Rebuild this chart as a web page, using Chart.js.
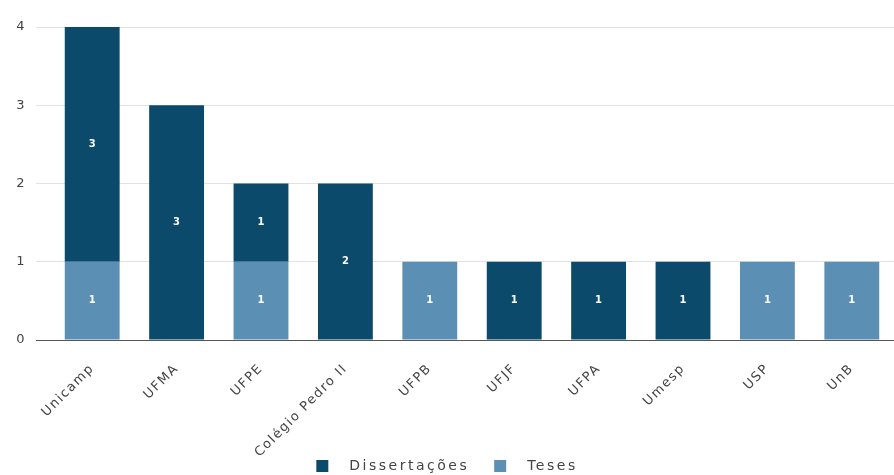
<!DOCTYPE html>
<html>
<head>
<meta charset="utf-8">
<script src="https://cdn.jsdelivr.net/npm/chart.js@4"></script>
<style>
  body { margin: 0; background: #fff; }
  #wrap { width: 894px; height: 475px; }
</style>
</head>
<body>
<div id="wrap"><canvas id="myChart"></canvas></div>
<script>
// categories and series
var institutions = ["Unicamp", "UFMA", "UFPE", "Colégio Pedro II", "UFPB", "UFJF", "UFPA", "Umesp", "USP", "UnB"];
var teses = [1, 0, 1, 0, 1, 0, 0, 0, 1, 1];
var dissertacoes = [3, 3, 1, 2, 0, 1, 1, 1, 0, 0];
var yTicks = [0, 1, 2, 3, 4];

var FONT = '"DejaVu Sans", Verdana, sans-serif';

// the source text is wide, so space the letters out a bit
var wideText = {
  id: 'wideText',
  beforeLayout: function (chart) { chart.ctx.letterSpacing = '1.5px'; },
  beforeDraw: function (chart) { chart.ctx.letterSpacing = '1.5px'; }
};

// writes the value in the middle of each bar segment
var barValues = {
  id: 'barValues',
  afterDatasetsDraw: function (chart) {
    var ctx = chart.ctx;
    ctx.save();
    ctx.letterSpacing = '0px';
    ctx.fillStyle = '#ffffff';
    ctx.font = 'bold 10px ' + FONT;
    ctx.textAlign = 'center';
    ctx.textBaseline = 'middle';
    chart.data.datasets.forEach(function (ds, i) {
      chart.getDatasetMeta(i).data.forEach(function (bar, j) {
        if (!ds.data[j]) return;
        var p = bar.getProps(['x', 'y', 'base'], true);
        ctx.fillText(ds.data[j], p.x, (p.y + p.base) / 2);
      });
    });
    ctx.restore();
  }
};

// legend at the bottom, Dissertações first, drawn by hand so the gaps match
var bottomLegend = {
  id: 'bottomLegend',
  afterDraw: function (chart) {
    var ctx = chart.ctx;
    var items = chart.data.datasets.slice().reverse();
    ctx.save();
    ctx.font = '14px ' + FONT;
    ctx.letterSpacing = '2.5px';
    ctx.textBaseline = 'middle';
    ctx.textAlign = 'left';
    var box = 12, gapText = 21, gapItem = 25;
    var total = 0;
    items.forEach(function (ds, i) {
      total += box + gapText + ctx.measureText(ds.label).width;
      if (i < items.length - 1) total += gapItem;
    });
    var x = chart.width / 2 - total / 2;
    var y = 466;
    items.forEach(function (ds) {
      ctx.fillStyle = ds.backgroundColor;
      ctx.fillRect(x, y - box / 2, box, box);
      x += box + gapText;
      ctx.fillStyle = '#444';
      ctx.fillText(ds.label, x, y);
      x += ctx.measureText(ds.label).width + gapItem;
    });
    ctx.restore();
  }
};

var ctx = document.getElementById('myChart').getContext('2d');
var myChart = new Chart(ctx, {
  type: 'bar',
  data: {
    labels: institutions,
    datasets: [
      // teses sit at the bottom of each stack
      { label: 'Teses', data: teses, backgroundColor: '#5b8fb3', stack: 's' },
      { label: 'Dissertações', data: dissertacoes, backgroundColor: '#0b4a6b', stack: 's' }
    ]
  },
  options: {
    responsive: true,
    maintainAspectRatio: false,
    animation: false,
    layout: { padding: { top: 27, right: 0, left: 0, bottom: 0 } },
    datasets: { bar: { categoryPercentage: 1, barPercentage: 0.65 } },
    plugins: {
      tooltip: { enabled: false },
      legend: { display: false }
    },
    scales: {
      x: {
        stacked: true,
        grid: { display: false },
        border: { display: false },
        ticks: {
          minRotation: 45, maxRotation: 45, padding: 13,
          color: '#444',
          font: { family: FONT, size: 13 }
        },
        afterFit: function (scale) { scale.height = 135; }
      },
      y: {
        stacked: true,
        min: 0, max: 4,
        afterBuildTicks: function (scale) {
          scale.ticks = yTicks.map(function (v) { return { value: v }; });
        },
        border: { display: false },
        grid: {
          tickLength: 14,
          color: function (c) { return c.tick && c.tick.value === 0 ? '#555' : '#e2e2e2'; }
        },
        ticks: {
          padding: 10,
          color: '#444',
          font: { family: FONT, size: 13 }
        },
        afterFit: function (scale) { scale.width = 50; }
      }
    }
  },
  plugins: [wideText, barValues, bottomLegend]
});
</script>
</body>
</html>
